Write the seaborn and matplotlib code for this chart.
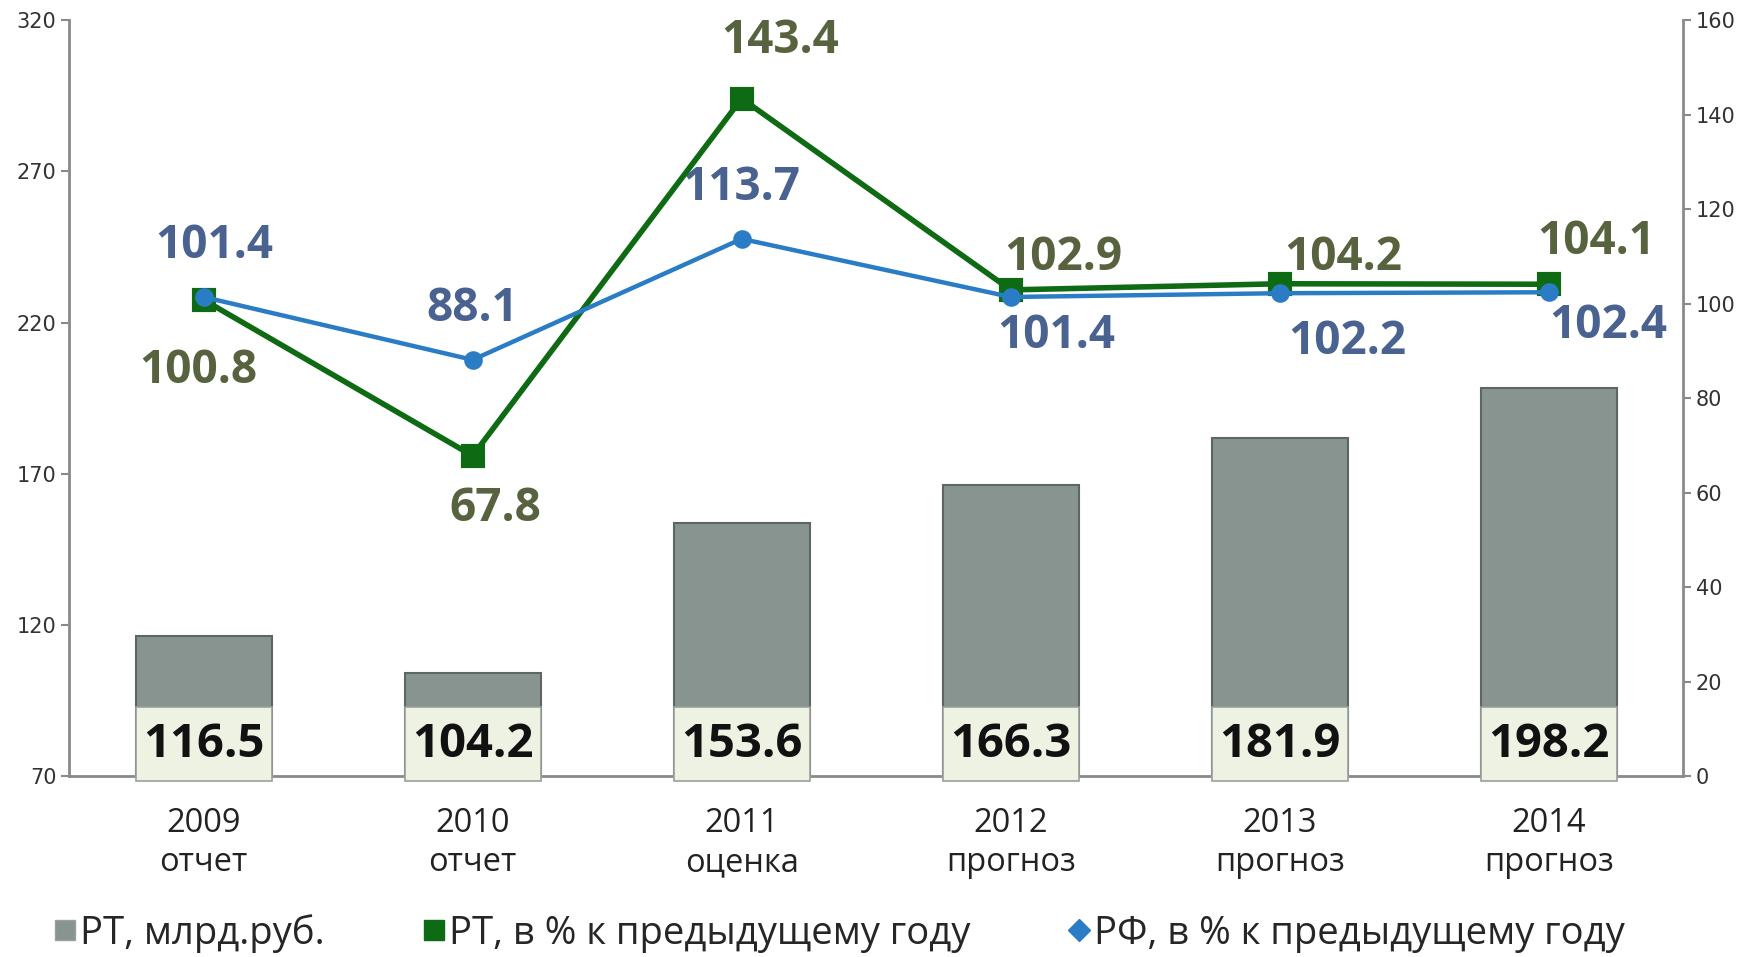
import numpy as np
import pandas as pd
import matplotlib
matplotlib.use('Agg')
import matplotlib.pyplot as plt
from matplotlib.patches import Rectangle
from matplotlib.lines import Line2D
from matplotlib.transforms import blended_transform_factory
import seaborn as sns

# data
years = ['2009\nотчет', '2010\nотчет', '2011\nоценка', '2012\nпрогноз', '2013\nпрогноз', '2014\nпрогноз']
rt_bln = [116.5, 104.2, 153.6, 166.3, 181.9, 198.2]
rt_pct = [100.8, 67.8, 143.4, 102.9, 104.2, 104.1]
rf_pct = [101.4, 88.1, 113.7, 101.4, 102.2, 102.4]

# label offsets (points) for the line value labels
rt_off = [(-4, -51), (16, -38), (28, 42), (38, 23), (46, 19), (34, 31)]
rf_off = [(8, 37), (0, 37), (0, 37), (33, -28), (49, -35), (43, -24)]

df = pd.DataFrame({'year': years, 'rt_bln': rt_bln, 'rt_pct': rt_pct, 'rf_pct': rf_pct})

sns.set_style('white')
plt.rcParams['font.family'] = ['Open Sans', 'DejaVu Sans']

bar_col = '#879490'
green = '#0f6a14'
blue = '#2a7cc4'
green_txt = '#57633f'
blue_txt = '#4a6290'
axis_col = '#8a8a8a'

fig = plt.figure(figsize=(17.48, 9.57), dpi=100)
ax = fig.add_axes([0.0395, 0.189, 0.9235, 0.79])

sns.barplot(data=df, x='year', y='rt_bln', color=bar_col, width=0.505,
            edgecolor='#5e6662', linewidth=1.5, saturation=1, ax=ax)
ax.set_ylim(70, 320)
ax.set_yticks([70, 120, 170, 220, 270, 320])
ax.set_xlim(-0.5, 5.5)
ax.set_xlabel('')
ax.set_ylabel('')

# value boxes at the foot of each bar
tr = blended_transform_factory(ax.transData, ax.transAxes)
for patch, v in zip(ax.patches, rt_bln):
    r = Rectangle((patch.get_x(), -0.006), patch.get_width(), 0.098, transform=tr,
                  facecolor='#eef2e2', edgecolor='#9aa09a', linewidth=1.2,
                  clip_on=False, zorder=3)
    ax.add_patch(r)
    ax.text(patch.get_x() + patch.get_width() / 2, 0.042, f'{v:.1f}', transform=tr,
            ha='center', va='center', fontsize=34, fontweight='bold',
            color='#111111', zorder=4)

ax2 = ax.twinx()
sns.pointplot(data=df, x='year', y='rt_pct', color=green, markers='s',
              markersize=15, linewidth=4, ax=ax2, zorder=5)
sns.pointplot(data=df, x='year', y='rf_pct', color=blue, markers='o',
              markersize=11, linewidth=3.2, ax=ax2, zorder=6)
ax2.set_ylim(0, 160)
ax2.set_yticks(range(0, 161, 20))
ax2.set_xlim(-0.5, 5.5)
ax2.set_ylabel('')
ax2.set_xlabel('')

for i, v in enumerate(rt_pct):
    ax2.annotate(f'{v:.1f}', (i, v), xytext=rt_off[i], textcoords='offset points',
                 ha='center', va='center', fontsize=33, fontweight='bold', color=green_txt)
for i, v in enumerate(rf_pct):
    ax2.annotate(f'{v:.1f}', (i, v), xytext=rf_off[i], textcoords='offset points',
                 ha='center', va='center', fontsize=33, fontweight='bold', color=blue_txt)

# axes styling
for a in (ax, ax2):
    a.spines['top'].set_visible(False)
    for s in ('left', 'right', 'bottom'):
        a.spines[s].set_color(axis_col)
        a.spines[s].set_linewidth(2)
ax.spines['right'].set_visible(False)
ax2.spines['left'].set_visible(False)
ax2.spines['bottom'].set_visible(False)

ax.set_xticks(range(len(years)))
ax.set_xticklabels(years, fontsize=23.5, color='#222222', linespacing=1.25)
ax.set_xticks(np.arange(-0.5, len(years), 1), minor=True)
ax.tick_params(axis='x', which='major', length=0, pad=22)
ax.tick_params(axis='x', which='minor', length=7, width=1.5, color=axis_col, direction='out')
ax.tick_params(axis='y', length=6, width=1.5, color=axis_col, direction='out', pad=3)
ax2.tick_params(axis='y', length=6, width=1.5, color=axis_col, direction='out', pad=3)
for lbl in ax.get_yticklabels() + ax2.get_yticklabels():
    lbl.set_fontfamily('DejaVu Sans')
    lbl.set_fontsize(15)
    lbl.set_color('#333333')

# legend
handles = [
    Line2D([], [], marker='s', linestyle='none', markersize=14, markerfacecolor=bar_col,
           markeredgecolor='#9aa09a'),
    Line2D([], [], marker='s', linestyle='none', color=green, markersize=14),
    Line2D([], [], marker='D', linestyle='none', color=blue, markersize=11),
]
labels = ['РТ, млрд.руб.', 'РТ, в % к предыдущему году', 'РФ, в % к предыдущему году']
fig.legend(handles, labels, loc='center left', bbox_to_anchor=(0.012, 0.025), ncol=3,
           frameon=False, fontsize=27.5, handlelength=0.5, handletextpad=0.15,
           columnspacing=2.6)

fig.savefig('out.png', dpi=100)
